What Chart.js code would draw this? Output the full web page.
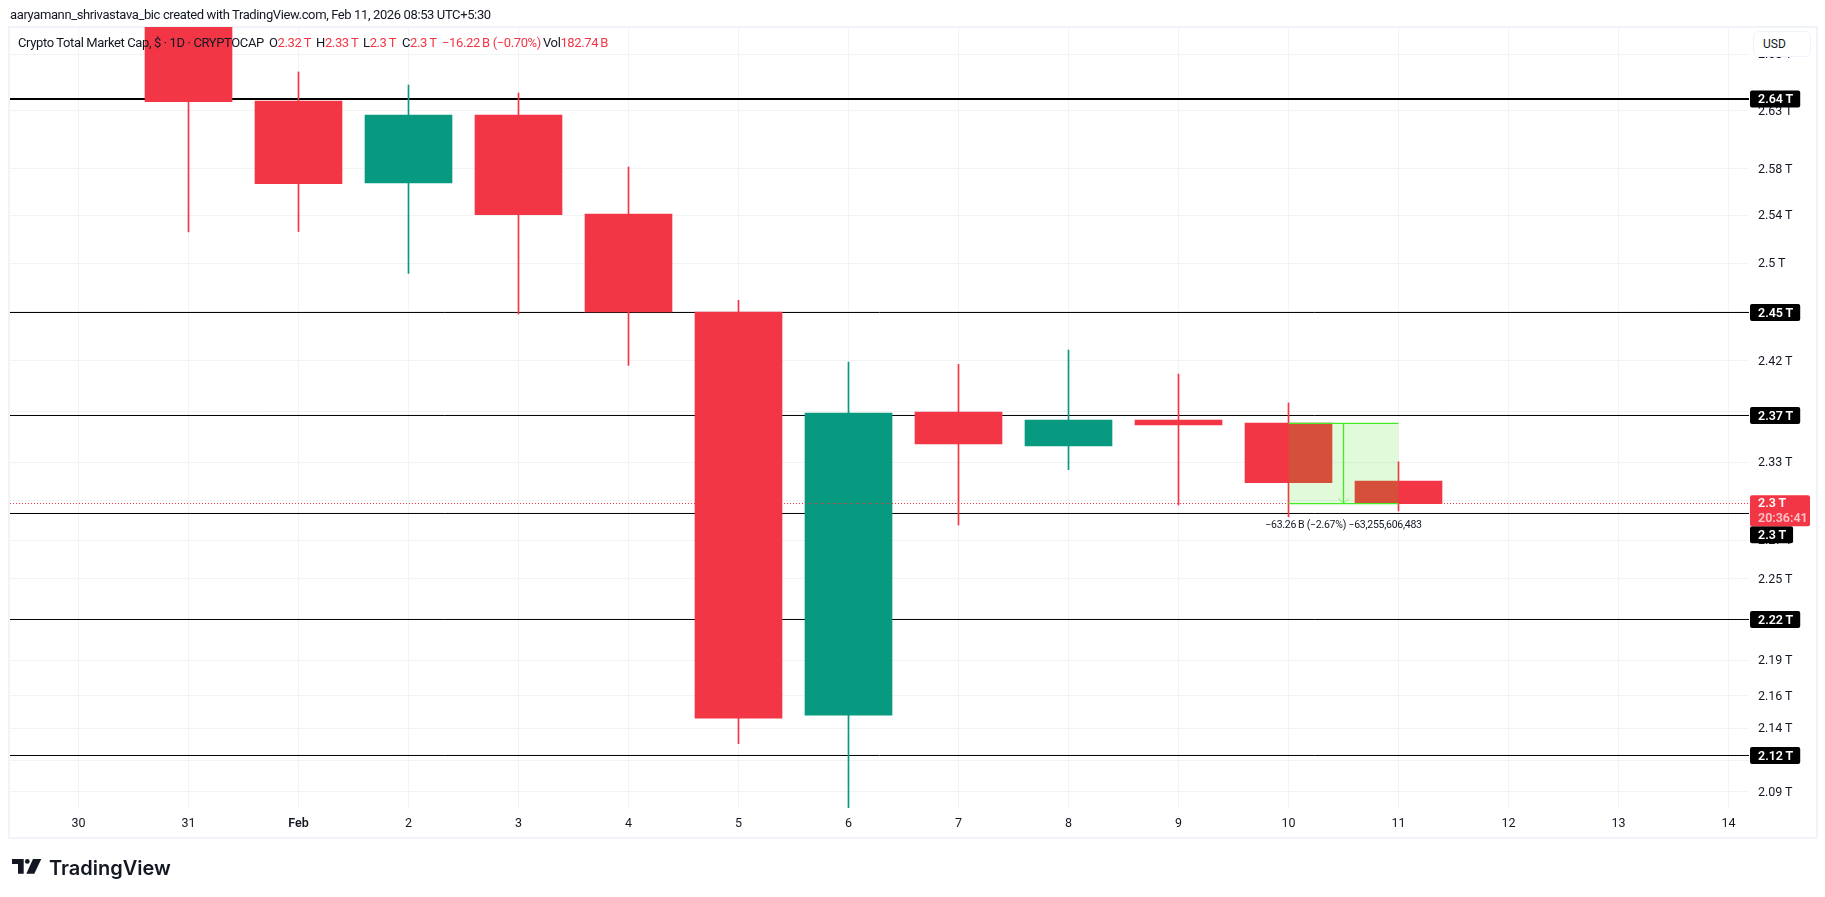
<!DOCTYPE html>
<html>
<head>
<meta charset="utf-8">
<title>Crypto Total Market Cap</title>
<script src="https://cdn.jsdelivr.net/npm/chart.js@4"></script>
<style>
  html, body { margin: 0; padding: 0; background: #fff; }
  #wrap { position: relative; width: 1825px; height: 897px; overflow: hidden; font-family: Roboto, sans-serif; color: #131722; }
  #frame { position: absolute; left: 8px; top: 26px; width: 1806px; height: 809px; border: 2px solid #f0f3fa; }
  canvas { position: absolute; left: 0; top: 0; display: block; }
  .txt { position: absolute; font-size: 13px; line-height: 16px; white-space: nowrap; letter-spacing: -0.38px; }
  .red { color: #f23645; }
  #usd { position: absolute; left: 1753px; top: 31px; width: 56px; height: 24px; border: 1px solid #f0f3fa; border-radius: 6px; background: #fff; font-size: 12px; line-height: 24px; text-indent: 9px; }
  #logoText { position: absolute; left: 49px; top: 854px; font: 600 20px/28px Inter, sans-serif; color: #131722; }
  #logoIcon { position: absolute; left: 12px; top: 859px; }
</style>
</head>
<body>
<div id="wrap">
  <div id="frame"></div>
  <canvas id="myChart" width="1825" height="897"></canvas>
  <div class="txt" style="left:10px;top:7px">aaryamann_shrivastava_bic created with TradingView.com, Feb 11, 2026 08:53 UTC+5:30</div>
  <div class="txt" style="left:18px;top:35px">Crypto Total Market Cap, $ · 1D · CRYPTOCAP</div>
  <div class="txt" style="left:269px;top:35px">O<span class="red">2.32&thinsp;T</span></div>
  <div class="txt" style="left:316px;top:35px">H<span class="red">2.33&thinsp;T</span></div>
  <div class="txt" style="left:363px;top:35px">L<span class="red">2.3&thinsp;T</span></div>
  <div class="txt" style="left:402px;top:35px">C<span class="red">2.3&thinsp;T</span></div>
  <div class="txt red" style="left:442px;top:35px">−16.22&thinsp;B (−0.70%)</div>
  <div class="txt" style="left:543px;top:35px">Vol<span class="red">182.74&thinsp;B</span></div>
  <div id="usd">USD</div>
  <svg id="logoIcon" width="30" height="15" viewBox="0 0 30 15">
    <path fill="#131722" d="M0 0H11.7V14.7H6V5H0Z M21 0H29.3L22.3 14.7H14.3Z"/>
    <circle fill="#131722" cx="15.3" cy="2.4" r="2.4"/>
  </svg>
  <div id="logoText">TradingView</div>
</div>
<script>
const dayLabels = ['30', '31', 'Feb', '2', '3', '4', '5', '6', '7', '8', '9', '10', '11', '12', '13', '14']

// one entry per day from the 31st on, values in trillions
const firstCandle = 1
const opens  = [2.74, 2.6389, 2.5668, 2.6264, 2.5400, 2.4573, 2.1444, 2.3756, 2.3485, 2.3692, 2.3668, 2.3209]
const closes = [2.6383, 2.5662, 2.6264, 2.5394, 2.4573, 2.1422, 2.3748, 2.3501, 2.3692, 2.3652, 2.3195, 2.3031]
const highs  = [2.78, 2.6649, 2.6532, 2.6460, 2.5807, 2.4670, 2.4161, 2.4142, 2.4259, 2.4063, 2.3829, 2.3360]
const lows   = [2.5246, 2.5250, 2.4895, 2.4556, 2.4133, 2.1237, 2.07, 2.2866, 2.3298, 2.3021, 2.2930, 2.2975]

const tickValues = [2.0898, 2.112, 2.1348, 2.1587, 2.1844, 2.2151, 2.2453, 2.2748, 2.3055, 2.3356, 2.3759, 2.417, 2.4573, 2.498, 2.539, 2.579, 2.63, 2.681]
const tickLabels = ['2.09\u2009T', '2.11\u2009T', '2.14\u2009T', '2.16\u2009T', '2.19\u2009T', '2.22\u2009T', '2.25\u2009T', '2.27\u2009T', '2.3\u2009T', '2.33\u2009T', '2.37\u2009T', '2.42\u2009T', '2.45\u2009T', '2.5\u2009T', '2.54\u2009T', '2.58\u2009T', '2.63\u2009T', '2.68\u2009T']

const levels = [2.6406663, 2.4568694, 2.3728302, 2.2955407, 2.2147736, 2.1152959]
const levelLabels = ['2.64\u2009T', '2.45\u2009T', '2.37\u2009T', '2.3\u2009T', '2.22\u2009T', '2.12\u2009T']
const levelWidths = [2, 1, 1, 1, 1, 1]

const lastPrice = 2.3033106
const lastPriceLabel = '2.3\u2009T'
const countdown = '20:36:41'

const measureDays = [11, 12]
const measurePrices = [2.3665, 2.3032]
const measureText = '−63.26\u2009B (−2.67%) −63,255,606,483'

const red = '#f23645'
const green = '#089981'
const measureGreen = 'rgb(70,235,40)'
const yMin = 2.0781
const yMax = 2.7057
const xMin = -0.622727
const xMax = 15.186364

const candleIdx = opens.map((o, i) => i)
const candleColors = candleIdx.map((i) => closes[i] >= opens[i] ? green : red)
const wicks = candleIdx.map((i) => ({ x: i + firstCandle, y: [lows[i], highs[i]] }))
const bodies = candleIdx.map((i) => ({ x: i + firstCandle, y: [opens[i], closes[i]] }))

const levelSets = levels.map((v, i) => ({
  type: 'line',
  data: [{ x: xMin, y: v }, { x: xMax, y: v }],
  borderColor: '#000',
  borderWidth: levelWidths[i],
  pointRadius: 0,
  order: 5
}))

// measure tool and the black price tags, drawn on top of the candles
const overlays = {
  id: 'overlays',
  afterDatasetsDraw(chart) {
    const { ctx, scales: { x, y }, chartArea } = chart
    const x0 = x.getPixelForValue(measureDays[0])
    const x1 = x.getPixelForValue(measureDays[1])
    const xm = (x0 + x1) / 2
    const y0 = y.getPixelForValue(measurePrices[0])
    const y1 = y.getPixelForValue(measurePrices[1])

    ctx.save()
    ctx.fillStyle = 'rgba(55,228,8,0.15)'
    ctx.fillRect(x0, y0, x1 - x0, y1 - y0)
    ctx.strokeStyle = measureGreen
    ctx.lineWidth = 1.3
    ctx.beginPath()
    ctx.moveTo(x0, y0); ctx.lineTo(x1, y0)
    ctx.moveTo(x0, y1); ctx.lineTo(x1, y1)
    ctx.moveTo(xm, y0); ctx.lineTo(xm, y1)
    ctx.stroke()
    ctx.lineWidth = 1
    ctx.strokeStyle = 'rgba(70,235,40,0.6)'
    ctx.beginPath()
    ctx.moveTo(xm - 5, y1 - 5); ctx.lineTo(xm, y1); ctx.lineTo(xm + 5, y1 - 5)
    ctx.stroke()

    ctx.fillStyle = '#131722'
    ctx.font = '10.5px Roboto, sans-serif'
    ctx.letterSpacing = '-0.25px'
    ctx.textAlign = 'center'
    ctx.textBaseline = 'middle'
    ctx.fillText(measureText, xm, y1 + 22)
    ctx.letterSpacing = '0px'

    // price tags on the axis
    const tagX = chartArea.right + 1
    const textX = chartArea.right + 9
    const py = y.getPixelForValue(lastPrice)
    const priceTop = py - 8.3
    const priceBottom = py + 22.7

    ctx.textAlign = 'left'
    ctx.font = '600 12.5px Roboto, sans-serif'
    levels.forEach((v, i) => {
      let cy = y.getPixelForValue(v)
      if (cy + 8.5 > priceTop && cy - 8.5 < priceBottom) cy = priceBottom + 8.5
      const w = ctx.measureText(levelLabels[i]).width + 15
      ctx.fillStyle = '#000'
      ctx.beginPath()
      ctx.roundRect(tagX, cy - 8.5, w, 17, 2)
      ctx.fill()
      ctx.fillStyle = '#fff'
      ctx.fillText(levelLabels[i], textX, cy + 1)
    })

    ctx.fillStyle = red
    ctx.beginPath()
    ctx.roundRect(tagX, priceTop, 60, priceBottom - priceTop, 2)
    ctx.fill()
    ctx.fillStyle = '#fff'
    ctx.fillText(lastPriceLabel, textX, py + 0.5)
    ctx.fillStyle = 'rgba(255,255,255,0.7)'
    ctx.fillText(countdown, textX, py + 15)
    ctx.restore()
  }
}

new Chart(document.getElementById('myChart'), {
  type: 'bar',
  data: {
    datasets: [
      ...levelSets,
      { data: wicks, backgroundColor: candleColors, barThickness: 1, grouped: false, order: 4 },
      { data: bodies, backgroundColor: candleColors, barThickness: 87, grouped: false, order: 3 },
      {
        type: 'line',
        data: [{ x: xMin, y: lastPrice }, { x: xMax, y: lastPrice }],
        borderColor: red,
        borderWidth: 1,
        borderDash: [1, 2],
        pointRadius: 0,
        order: 1
      }
    ]
  },
  options: {
    responsive: false,
    animation: false,
    devicePixelRatio: 1,
    layout: { padding: { left: 10, top: 27, right: 10, bottom: 60 } },
    plugins: { legend: { display: false }, tooltip: { enabled: false } },
    scales: {
      x: {
        type: 'linear',
        offset: false,
        bounds: 'data',
        min: xMin,
        max: xMax,
        afterBuildTicks: (s) => { s.ticks = dayLabels.map((d, i) => ({ value: i })) },
        afterFit: (s) => { s.height = 29 },
        border: { display: false },
        grid: { color: '#f2f3f5', drawTicks: false, offset: false },
        ticks: {
          autoSkip: false,
          maxRotation: 0,
          padding: 8.5,
          color: '#131722',
          font: (c) => ({ family: 'Roboto, sans-serif', size: 12.5, weight: dayLabels[c.index] === 'Feb' ? '600' : '400' }),
          callback: (v, i) => dayLabels[i]
        }
      },
      y: {
        type: 'logarithmic',
        position: 'right',
        bounds: 'data',
        min: yMin,
        max: yMax,
        afterBuildTicks: (s) => { s.ticks = tickValues.map((v) => ({ value: v })) },
        afterFit: (s) => { s.width = 66 },
        border: { display: false },
        grid: { color: '#f2f3f5', drawTicks: false },
        ticks: {
          autoSkip: false,
          padding: 9,
          labelOffset: 1,
          color: '#131722',
          font: { family: 'Roboto, sans-serif', size: 12.5 },
          callback: (v, i) => tickLabels[i]
        }
      }
    }
  },
  plugins: [overlays]
})
</script>
</body>
</html>
